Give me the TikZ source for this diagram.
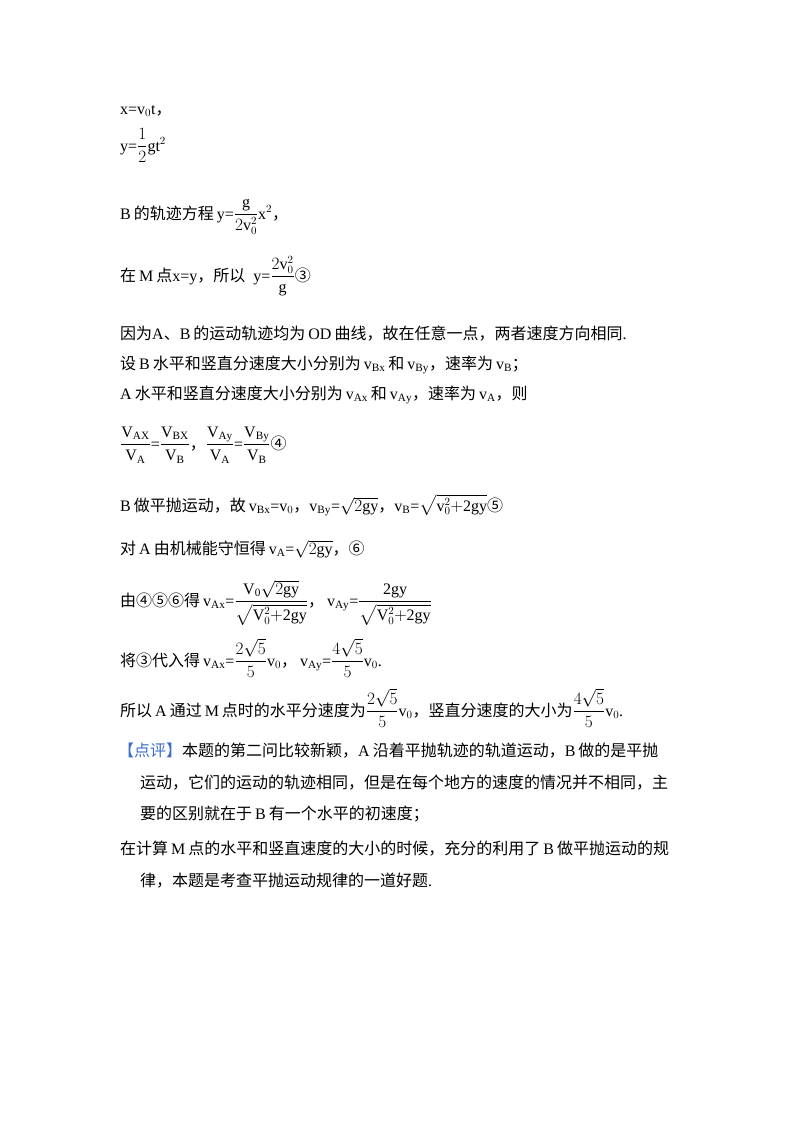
\documentclass[tikz,border=0pt]{standalone}
\usepackage{amsmath}
\usepackage{fontspec}
\setmainfont{Liberation Serif}
\newfontfamily\cjk{Noto Sans CJK SC}
\newcommand{\zh}[1]{{\cjk #1}}
\newcommand{\gp}{\hspace{3pt}}
\tikzset{ln/.style={anchor=base west,inner sep=0pt,font=\fontsize{16}{19}\selectfont}}
\begin{document}
\begin{tikzpicture}[x=1pt,y=-1pt]
\useasboundingbox[fill=white] (0,0) rectangle (800,1132);
\node[ln] (l1) at (120,114) {x=v$_0$t\zh{，}};
\node[ln] (l2) at (120,151) {y=$\dfrac{1}{2}$gt$^2$};
\node[ln] (l3) at (120,219) {B\gp\zh{的轨迹方程}\gp y=$\dfrac{\mathrm{g}}{2\mathrm{v}_0^2}$x$^2$\zh{，}};
\node[ln] (l4) at (120,281) {\zh{在}\gp M\gp\zh{点}x=y\zh{，所以} \ y=$\dfrac{2\mathrm{v}_0^2}{\mathrm{g}}$\zh{③}};
\node[ln] (l5) at (120,339) {\zh{因为}A\zh{、}B\gp\zh{的运动轨迹均为}\gp OD\gp\zh{曲线，故在任意一点，两者速度方向相同}.};
\node[ln] (l6) at (120,369) {\zh{设}\gp B\gp\zh{水平和竖直分速度大小分别为}\gp v$_{\mathrm{Bx}}$\gp\zh{和}\gp v$_{\mathrm{By}}$\zh{，速率为}\gp v$_{\mathrm{B}}$\zh{；}};
\node[ln] (l7) at (120,399) {A\gp\zh{水平和竖直分速度大小分别为}\gp v$_{\mathrm{Ax}}$\gp\zh{和}\gp v$_{\mathrm{Ay}}$\zh{，速率为}\gp v$_{\mathrm{A}}$\zh{，则}};
\node[ln] (l8) at (120,449) {$\dfrac{\mathrm{V_{AX}}}{\mathrm{V_A}}$=$\dfrac{\mathrm{V_{BX}}}{\mathrm{V_B}}$\zh{，}$\dfrac{\mathrm{V_{Ay}}}{\mathrm{V_A}}$=$\dfrac{\mathrm{V_{By}}}{\mathrm{V_B}}$\zh{④}};
\node[ln] (l9) at (120,511) {B\gp\zh{做平抛运动，故}\gp v$_{\mathrm{Bx}}$=v$_0$\zh{，}v$_{\mathrm{By}}$=$\sqrt{2\mathrm{gy}}$\zh{，}v$_{\mathrm{B}}$=$\sqrt{\mathrm{v}_0^2\mathrm{+2gy}}$\zh{⑤}};
\node[ln] (l10) at (120,554) {\zh{对}\gp A\gp\zh{由机械能守恒得}\gp v$_{\mathrm{A}}$=$\sqrt{2\mathrm{gy}}$\zh{，⑥}};
\node[ln] (l11) at (120,606) {\zh{由④⑤⑥得}\gp v$_{\mathrm{Ax}}$=$\dfrac{\mathrm{V_0}\sqrt{2\mathrm{gy}}}{\sqrt{\mathrm{V}_0^2\mathrm{+2gy}}}$\zh{，}\gp v$_{\mathrm{Ay}}$=$\dfrac{\mathrm{2gy}}{\sqrt{\mathrm{V}_0^2\mathrm{+2gy}}}$};
\node[ln] (l12) at (120,666) {\zh{将③代入得}\gp v$_{\mathrm{Ax}}$=$\dfrac{2\sqrt5}{5}$v$_0$\zh{，}\gp v$_{\mathrm{Ay}}$=$\dfrac{4\sqrt5}{5}$v$_0$.};
\node[ln] (l13) at (120,716) {\zh{所以}\gp A\gp\zh{通过}\gp M\gp\zh{点时的水平分速度为}$\dfrac{2\sqrt5}{5}$v$_0$\zh{，竖直分速度的大小为}$\dfrac{4\sqrt5}{5}$v$_0$.};
\node[ln] (l14) at (118,756) {\zh{\textcolor[RGB]{60,110,200}{【点评】}本题的第二问比较新颖，}A\gp\zh{沿着平抛轨迹的轨道运动，}B\gp\zh{做的是平抛}};
\node[ln] (l15) at (140,788) {\zh{运动，它们的运动的轨迹相同，但是在每个地方的速度的情况并不相同，主}};
\node[ln] (l16) at (140,819) {\zh{要的区别就在于}\gp B\gp\zh{有一个水平的初速度；}};
\node[ln] (l17) at (120,854) {\zh{在计算}\gp M\gp\zh{点的水平和竖直速度的大小的时候，充分的利用了}\gp B\gp\zh{做平抛运动的规}};
\node[ln] (l18) at (140,886) {\zh{律，本题是考查平抛运动规律的一道好题}.};
\end{tikzpicture}
\end{document}
